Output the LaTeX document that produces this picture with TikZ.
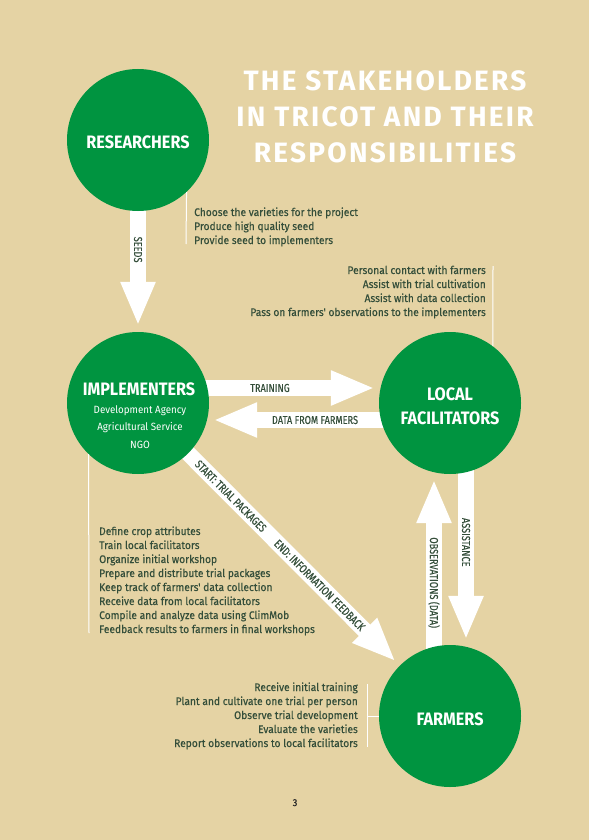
\documentclass[tikz,border=0pt]{standalone}
\usepackage{fontspec}
\setmainfont{Fira Sans}
\newfontfamily\titlefont[LetterSpace=8]{Fira Sans}
\newfontfamily\headfont[FakeStretch=0.9]{Fira Sans}
\newfontfamily\bodyfont[FakeStretch=0.93, FakeBold=0.3]{Fira Sans}
\newfontfamily\subfont[FakeStretch=0.93]{Fira Sans}
\newfontfamily\lblfont[FakeStretch=0.8, FakeBold=0.3]{Fira Sans}
\usetikzlibrary{arrows.meta,calc}
\pgfdeclarelayer{paperlayer}
\pgfdeclarelayer{under}
\pgfsetlayers{paperlayer,under,main}

\definecolor{paper}{RGB}{229,211,164}
\definecolor{leaf}{RGB}{0,148,64}
\definecolor{ink}{RGB}{52,78,58}

\tikzset{
  role/.style={circle, fill=leaf, minimum size=142pt, inner sep=0pt},
  rolename/.style={font=\headfont\bfseries\fontsize{18}{24}\selectfont, text=white, inner sep=0pt, align=center},
  rolesub/.style={font=\subfont\fontsize{10.5}{17.5}\selectfont, text=white, inner sep=0pt, align=center},
  flow/.style={draw=white, line width=16pt, -{Triangle[width=32pt,length=44pt]}},
  flowlbl/.style={font=\lblfont\fontsize{11.5}{12}\selectfont, text=ink, inner sep=0pt},
  duty/.style={font=\bodyfont\fontsize{11}{14}\selectfont, text=ink, inner sep=0pt},
  rule/.style={draw=white, line width=1pt}
}

\begin{document}
\begin{tikzpicture}[x=1pt,y=-1pt]
  % page
  \begin{pgfonlayer}{paperlayer}
    \fill[paper] (0,0) rectangle (589,840);
  \end{pgfonlayer}
  \useasboundingbox (0,0) rectangle (589,840);

  % title (anchored on the baseline of its last line)
  \node[font=\titlefont\bfseries\fontsize{28}{36}\selectfont, text=white, align=center, anchor=base, inner sep=0pt]
    (title) at (385,162) {THE STAKEHOLDERS\\IN TRICOT AND THEIR\\RESPONSIBILITIES};

  % stakeholders
  \node[role] (res) at (138,140) {};
  \node[role] (imp) at (138,403) {};
  \node[role] (loc) at (450,403) {};
  \node[role] (far) at (450,716) {};

  \node[rolename, anchor=base] (resname) at (138,149) {RESEARCHERS};
  \node[rolename, anchor=base] (impname) at (139,395) {IMPLEMENTERS};
  \node[rolesub, anchor=base] (impsub) at (140,448) {Development Agency\\Agricultural Service\\NGO};
  \node[rolename, anchor=base] (locname) at (450,424) {LOCAL\\FACILITATORS};
  \node[rolename, anchor=base] (farname) at (450,725) {FARMERS};

  % flows between stakeholders
  \begin{pgfonlayer}{under}
    \draw[flow] (res.center) -- ([yshift=6pt]imp.north)
      node[flowlbl, pos=0.59, rotate=-90] (seeds) {SEEDS};
    \draw[flow] ([yshift=15pt]imp.center) -- ([yshift=15pt,xshift=-4pt]loc.west)
      node[flowlbl, pos=0.557] (training) {TRAINING};
    \draw[flow] ([yshift=-17pt]loc.center) -- ([yshift=-17pt,xshift=4pt]imp.east)
      node[flowlbl, pos=0.57] (datafarm) {DATA FROM FARMERS};
    \draw[flow] (imp.center) -- ($(far.center)!77pt!(imp.center)$)
      node[flowlbl, pos=0.36, sloped] (start) {START: TRIAL PACKAGES}
      node[flowlbl, pos=0.705, sloped] (end) {END: INFORMATION FEEDBACK};
    \draw[flow] ([xshift=16pt]loc.center) -- ([xshift=16pt,yshift=5pt]far.north)
      node[flowlbl, pos=0.588, rotate=-90] (assist) {ASSISTANCE};
    \draw[flow] ([xshift=-16pt]far.center) -- ([xshift=-16pt,yshift=-5pt]loc.south)
      node[flowlbl, pos=0.563, rotate=-90] (obs) {OBSERVATIONS (DATA)};
  \end{pgfonlayer}

  % responsibilities (anchored on the baseline of the last line)
  \node[duty, anchor=base west, align=left] (resduty) at (194,244)
    {Choose the varieties for the project\\Produce high quality seed\\Provide seed to implementers};
  \node[duty, anchor=base east, align=right] (locduty) at (486,316)
    {Personal contact with farmers\\Assist with trial cultivation\\Assist with data collection\\Pass on farmers' observations to the implementers};
  \node[duty, anchor=base west, align=left] (impduty) at (99,633)
    {Define crop attributes\\Train local facilitators\\Organize initial workshop\\Prepare and distribute trial packages\\Keep track of farmers' data collection\\Receive data from local facilitators\\Compile and analyze data using ClimMob\\Feedback results to farmers in final workshops};
  \node[duty, anchor=base east, align=right] (farduty) at (358,747)
    {Receive initial training\\Plant and cultivate one trial per person\\Observe trial development\\Evaluate the varieties\\Report observations to local facilitators};

  % guide rules
  \coordinate (resend) at (186,244);
  \coordinate (locend) at (493,266);
  \coordinate (impend) at (89,633);
  \coordinate (fartop) at (367,684);
  \coordinate (farbot) at (367,747);
  \draw[rule] (res.-47) -- (resend);
  \draw[rule] (loc.53) -- (locend);
  \draw[rule] (imp.-134) -- (impend);
  \draw[rule] (fartop) -- (farbot);
  \draw[rule] (far.west) -- (far.west -| fartop);

  % folio
  \node[font=\bodyfont\fontsize{10}{12}\selectfont, text=black!85, anchor=base, inner sep=0pt] (folio) at (295,806) {3};
\end{tikzpicture}
\end{document}
